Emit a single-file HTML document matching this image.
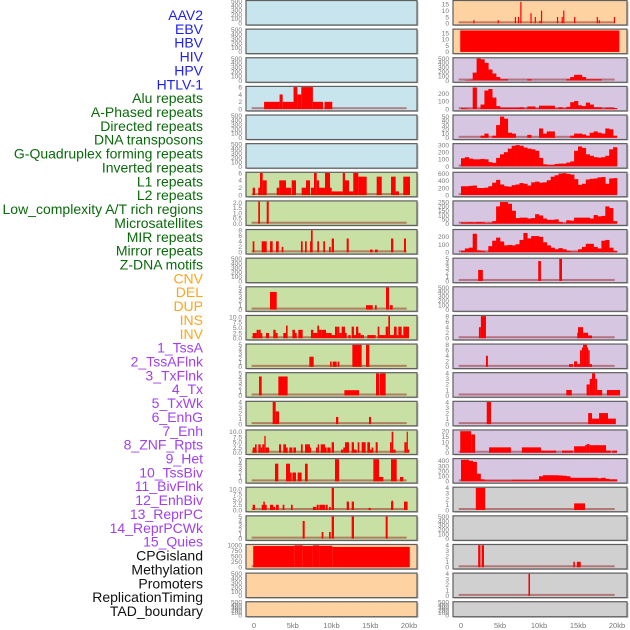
<!DOCTYPE html>
<html><head><meta charset="utf-8"><style>
html,body{margin:0;padding:0;background:#fff;}
svg{display:block;font-family:"Liberation Sans",sans-serif;}
</style></head><body>
<svg id="chart" width="630" height="630" viewBox="0 0 630 630" xmlns="http://www.w3.org/2000/svg"></svg>
<script>
// ---------- legend labels ----------
const labelNames = ["AAV2","EBV","HBV","HIV","HPV","HTLV-1","Alu repeats","A-Phased repeats","Directed repeats","DNA transposons","G-Quadruplex forming repeats","Inverted repeats","L1 repeats","L2 repeats","Low_complexity A/T rich regions","Microsatellites","MIR repeats","Mirror repeats","Z-DNA motifs","CNV","DEL","DUP","INS","INV","1_TssA","2_TssAFlnk","3_TxFlnk","4_Tx","5_TxWk","6_EnhG","7_Enh","8_ZNF_Rpts","9_Het","10_TssBiv","11_BivFlnk","12_EnhBiv","13_ReprPC","14_ReprPCWk","15_Quies","CPGisland","Methylation","Promoters","ReplicationTiming","TAD_boundary"];
const labelGroups = [6,13,5,15,5];
const groupColors = ["#1f1fee","#0a6a0a","#ffa51a","#a040f0","#111111"];

// ---------- tick arrays ----------
const t500 = [0,100,200,300,400,500];
const t6 = [0,2,4,6];
const t8 = [0,2,4,6,8];
const t2 = [0,0.5,1,1.5,2];
const t2Labels = ["0.0","0.5","1.0","1.5","2.0"];
const t5 = [0,1,2,3,4,5];
const t4 = [0,1,2,3,4];
const t10 = [0,2.5,5,7.5,10];
const t10Labels = ["0.0","2.5","5.0","7.5","10.0"];
const t1000 = [0,250,500,750,1000];
const t15 = [0,5,10,15];
const t20 = [0,5,10,15,20];
const t200 = [0,100,200];
const t300 = [0,100,200,300];
const t400 = [0,100,200,300,400];
const t50 = [0,10,20,30,40,50];
const t250 = [0,50,100,150,200,250];
const t600 = [0,200,400,600];
const xTicks = [0,5,10,15,20];
const xTickLabels = ["0","5kb","10kb","15kb","20kb"];

// ---------- left column series (segments: [startKb, endKb, value]) ----------
const aluSegs = [[1.3,3.3,2],[3.3,3.7,4],[3.7,5.1,2],[5.1,5.6,6],[5.6,6.1,4],[6.1,7.6,6],[7.6,8.9,2],[9.1,10.1,2]];
const l1Segs = [[-0.17,0.13,2],[0.55,0.77,2],[0.77,1.12,6],[1.12,1.64,4],[2.93,3.26,2],[3.26,4.13,4],[4.13,4.77,2],[4.86,5.42,4],[6.15,6.71,2],[6.71,7.23,4],[7.35,7.74,2],[7.74,8.09,6],[8.09,8.39,4],[8.39,9.16,2],[9.16,9.81,6],[9.81,10.03,2],[10.03,11.45,1],[11.45,11.74,6],[11.74,12.26,4],[12.26,12.81,1],[12.81,13.46,6],[13.46,14.54,5],[15.83,16.48,5],[17.68,18.28,5],[18.28,18.71,1],[19.26,20.13,5]];
const l2Segs = [[0.55,0.77,2.1],[1.64,1.9,2.1]];
const lowSegs = [[-0.17,0.05,4],[0.99,1.64,4],[2.06,2.41,4],[2.84,3.19,4],[3.57,3.78,2],[6.06,6.28,4],[6.58,6.8,4],[7.23,7.35,4],[7.35,7.57,8],[8.17,8.39,4],[8.94,9.16,4],[9.68,9.9,2],[10.03,10.32,5],[11.96,12.22,5],[14.97,15.31,1],[15.61,15.96,1],[17.68,17.97,5],[19.35,19.61,5]];
const mirSegs = [[2.06,2.93,4],[14.45,15.31,1],[15.61,15.83,1],[17.03,17.42,5],[17.55,17.9,1]];
const mirrorSegs = [[-0.17,0.34,2.5],[0.34,0.56,4],[0.56,0.86,4],[0.86,1.07,2.5],[1.55,1.94,2.5],[2.49,2.8,4],[2.8,3.05,2.5],[3.78,4.13,2.5],[4.13,4.34,6],[4.95,5.29,4],[5.29,5.51,2.5],[5.72,6.28,4],[7.35,7.65,4],[7.65,8.17,2.5],[8.17,8.39,6],[8.39,8.73,4],[8.73,9.29,4],[9.29,9.46,2.5],[9.46,10.02,2.5],[10.02,10.45,1.5],[10.45,10.75,5.5],[10.75,11.01,5.5],[11.01,11.31,2.5],[11.31,11.74,5.5],[11.74,11.96,2.5],[12.17,12.47,1.5],[12.6,12.9,5.5],[12.9,13.16,1.5],[13.16,13.46,5.5],[13.46,13.76,2.5],[13.76,14.19,1.5],[14.62,15.4,1.5],[15.4,15.7,1.5],[15.96,16.17,5.5],[16.17,16.99,1.5],[16.99,17.33,5.5],[17.33,17.55,10.5],[17.55,18.06,1.5],[18.06,18.41,5.5],[18.41,18.62,1.5],[18.62,19.05,5.5],[19.05,19.27,1.5],[19.27,20,5.5]];
const delSegs = [[7.14,7.7,2.3],[9.81,10.02,1.2],[10.15,10.67,1.2],[10.8,11.01,1.2],[12.69,13.89,5],[14.45,14.88,5]];
const dupSegs = [[0.65,0.99,4.3],[3.14,4.34,4.3],[11.66,13.55,1.2],[15.74,16.17,5],[16.26,16.99,5]];
const insSegs = [[2.41,2.8,4],[2.8,3.23,2.3],[10.58,10.88,1.3],[14.84,15.1,1.3]];
const invSegs = [[-0.17,0.13,2.5],[0.13,0.34,4],[0.56,0.86,4],[0.86,1.07,2.5],[1.07,1.33,4],[1.33,1.5,8],[1.5,1.94,2.5],[3.23,3.49,4],[3.78,4.13,4],[4.13,4.34,2.5],[4.56,4.95,2.5],[5.08,5.42,2.5],[6.06,6.28,4],[6.58,7.22,4],[7.22,7.35,2.5],[8.0,8.22,2.5],[8.22,8.39,4],[8.6,9.16,4],[9.16,9.38,2.5],[9.46,9.89,2.5],[10.02,10.32,5],[11.22,11.52,1.5],[11.52,11.74,2.5],[11.74,12.26,5],[12.6,12.9,5],[12.9,13.25,1.5],[13.38,13.59,5],[13.89,14.41,5],[14.62,14.97,5],[14.97,15.18,1.5],[15.18,15.4,2.5],[15.7,15.96,5],[17.55,17.76,5],[17.76,17.97,10],[17.97,18.28,1.5],[19.4,19.7,5],[19.7,19.82,10],[19.82,20.04,1.5]];
const tssaSegs = [[2.71,3.14,4],[4.13,4.65,4],[4.65,4.86,2],[4.95,5.42,2],[5.63,6.15,2],[6.58,6.93,4],[10.45,10.97,5],[15.4,16.13,5],[16.13,16.69,1],[17.68,18.41,5],[18.84,19.27,1]];
const tssaflnkSegs = [[-0.17,0.13,2.5],[0.99,1.64,2.5],[1.2,1.4,4],[2.06,2.49,2.5],[2.49,2.71,1.5],[2.84,3.19,2.5],[3.7,3.92,2.5],[4.77,4.99,2.5],[7.6,8.04,1.5],[8.09,8.35,2.5],[8.43,9.16,2.5],[9.25,9.51,2.5],[9.68,9.9,1.5],[10.02,10.32,10.5],[11.96,12.26,4],[12.6,12.9,4],[14.79,15.05,1],[17.68,17.97,4],[17.76,17.88,4.5],[19.35,19.82,4]];
const txflnkSegs = [[6.28,6.54,4],[8.73,8.95,1.5],[9.68,9.9,1.5],[10.02,10.32,5],[12.6,12.9,5],[16.99,17.25,5]];
const cpgSegs = [[-0.1,5.2,960],[5.2,6.3,990],[6.3,7.6,960],[7.6,8.4,990],[8.4,10.1,970],[10.1,20.1,920]];

// ---------- right column series ----------
const aav2Segs = [[1.58,1.73,2.5],[4.7,4.85,2.5],[6.9,7.05,5],[7.3,7.45,5],[7.6,7.75,17],[8.9,9.05,8],[9.45,9.6,5],[10.05,10.2,2],[10.25,10.4,10],[12.3,12.45,5],[12.9,13.05,5],[13.1,13.25,10],[14.5,14.65,5],[17.4,17.55,5],[17.65,17.8,2.5],[19.6,19.75,5]];
const hbvSegs = [[-0.1,20.3,17]];
const hivBins = [0,10,20,180,500,480,400,250,160,80,30,30,0,0,0,0,0,30,0,0,0,0,0,0,0,0,0,30,80,130,130,80,30,30,30,30,0,0,0,0];
const hpvBins = [15,10,5,280,5,60,240,260,150,40,20,20,20,20,20,25,10,35,35,10,45,45,45,45,10,25,10,30,90,105,50,40,85,60,25,25,10,20,20,15];
const htlvBins = [0,0,0,0,0,5,10,0,5,30,50,45,12,10,0,0,0,7,0,0,22,10,15,15,0,0,0,0,5,10,10,8,5,12,15,12,10,22,20,5];
const aphasedBins = [115,130,110,100,100,105,100,60,50,120,170,200,250,290,300,290,265,250,240,220,120,30,20,20,35,40,40,55,70,220,280,260,170,150,130,125,130,150,240,270];
const directedBins = [250,250,260,270,200,200,210,250,350,430,300,250,240,280,300,340,320,270,360,380,350,360,420,520,560,610,620,600,580,450,290,320,440,460,470,500,510,320,470,480];
const dnaBins = [15,15,18,15,20,18,8,10,30,200,250,250,230,150,65,70,70,60,65,110,95,60,45,45,50,20,5,40,35,70,70,70,70,60,100,85,90,200,180,30];
const gquadBins = [20,50,60,240,25,20,5,80,150,190,140,90,95,90,105,160,250,180,210,210,200,130,90,60,40,55,40,20,10,10,40,70,110,110,70,50,150,160,60,20];
const invertedSegs = [[2.2,2.8,2.5],[9.9,10.25,4.5],[12.6,12.95,5]];
const l1rSegs = [[2.3,2.55,4],[2.55,3.2,8],[14.9,15.0,2],[15.0,15.65,4],[15.65,16.3,2],[16.3,16.8,1]];
const l2rSegs = [[3.2,3.45,4],[13.85,14.35,1],[14.5,14.9,2],[14.9,15.25,1],[15.25,15.5,6],[15.5,15.65,7],[15.65,16.15,8],[16.15,16.3,7],[16.3,16.5,6],[16.5,16.8,1]];
const lowrSegs = [[13.5,14.2,1],[16.1,16.5,2],[16.5,16.8,3],[16.8,17.2,4],[17.2,17.45,3],[17.45,18.1,1],[18.7,20.4,1]];
const microSegs = [[3.3,3.85,4],[16.3,16.8,2],[16.8,17.7,1],[17.7,18.85,2],[18.85,19.85,1]];
const mirrSegs = [[-0.1,1.3,20],[1.3,1.8,17],[3.6,6.4,5],[7.8,10.25,5],[10.25,12.2,2],[12.95,14.35,2],[14.5,15.9,6],[15.9,16.1,7],[16.1,16.5,8],[16.5,18.6,7],[18.6,19.2,2],[19.4,20.0,2]];
const zdnaBins = [420,420,400,380,150,40,20,20,20,20,20,20,20,30,30,30,30,30,30,35,100,120,120,120,120,115,110,100,70,70,70,70,70,70,70,60,70,50,40,40];
const cnvSegs = [[1.9,3.1,4],[14.5,15.9,1.2]];
const tssaRSegs = [[2.2,2.5,4],[2.65,2.95,4],[14.4,14.6,1],[14.85,15.35,1]];
const tssaflnkRSegs = [[8.65,8.85,4]];

const BG = {blue:"#c8e4ec", peach:"#ffd2a2", lav:"#d6c6e2", green:"#c8e0a4", gray:"#d0d0d0"};

const leftPanels = [
 {bg:"blue",ticks:t500,ymax:500},{bg:"blue",ticks:t500,ymax:500},{bg:"blue",ticks:t500,ymax:500},
 {bg:"blue",ticks:t6,ymax:6,segs:aluSegs},
 {bg:"blue",ticks:t500,ymax:500},{bg:"blue",ticks:t500,ymax:500},
 {bg:"green",ticks:t6,ymax:6,segs:l1Segs},
 {bg:"green",ticks:t2,labels:t2Labels,ymax:2.1,segs:l2Segs},
 {bg:"green",ticks:t8,ymax:8,segs:lowSegs},
 {bg:"green",ticks:t500,ymax:500},
 {bg:"green",ticks:t5,ymax:5,segs:mirSegs},
 {bg:"green",ticks:t10,labels:t10Labels,ymax:10.5,segs:mirrorSegs},
 {bg:"green",ticks:t5,ymax:5,segs:delSegs},
 {bg:"green",ticks:t5,ymax:5,segs:dupSegs},
 {bg:"green",ticks:t4,ymax:4,segs:insSegs},
 {bg:"green",ticks:t10,labels:t10Labels,ymax:10.5,segs:invSegs},
 {bg:"green",ticks:t5,ymax:5,segs:tssaSegs},
 {bg:"green",ticks:t10,labels:t10Labels,ymax:10.5,segs:tssaflnkSegs},
 {bg:"green",ticks:t5,ymax:5,segs:txflnkSegs},
 {bg:"peach",ticks:t1000,ymax:1000,segs:cpgSegs},
 {bg:"peach",ticks:t500,ymax:500},
 {bg:"peach",ticks:t500,ymax:500,short:true}
];
const rightPanels = [
 {bg:"peach",ticks:t15,ymax:17.5,segs:aav2Segs},
 {bg:"peach",ticks:t15,ymax:17.5,segs:hbvSegs,noBase:true},
 {bg:"lav",ticks:t500,ymax:500,bins:hivBins},
 {bg:"lav",ticks:t200,ymax:285,bins:hpvBins},
 {bg:"lav",ticks:t50,ymax:52,bins:htlvBins},
 {bg:"lav",ticks:t300,ymax:310,bins:aphasedBins},
 {bg:"lav",ticks:t600,ymax:625,bins:directedBins},
 {bg:"lav",ticks:t250,ymax:255,bins:dnaBins},
 {bg:"lav",ticks:t200,ymax:285,bins:gquadBins},
 {bg:"lav",ticks:t5,ymax:5,segs:invertedSegs},
 {bg:"lav",ticks:t500,ymax:500},
 {bg:"lav",ticks:t8,ymax:8,segs:l1rSegs},
 {bg:"lav",ticks:t8,ymax:8,segs:l2rSegs},
 {bg:"lav",ticks:t4,ymax:4,segs:lowrSegs},
 {bg:"lav",ticks:t4,ymax:4,segs:microSegs},
 {bg:"lav",ticks:t20,ymax:20.5,segs:mirrSegs},
 {bg:"lav",ticks:t400,ymax:430,bins:zdnaBins},
 {bg:"gray",ticks:t4,ymax:4,segs:cnvSegs},
 {bg:"gray",ticks:t500,ymax:500},
 {bg:"gray",ticks:t4,ymax:4,segs:tssaRSegs},
 {bg:"gray",ticks:t4,ymax:4,segs:tssaflnkRSegs},
 {bg:"gray",ticks:t500,ymax:500,short:true}
];

const NS = "http://www.w3.org/2000/svg";
const svg = document.getElementById("chart");
function mk(tag, attrs, parent){
  const e = document.createElementNS(NS, tag);
  for (const k in attrs) e.setAttribute(k, attrs[k]);
  (parent||svg).appendChild(e);
  return e;
}
const COLS = [
  {box0:246, box1:417, x0:254, x1:409, tickX:242},
  {box0:453, box1:627, x0:461, x1:617, tickX:449}
];
function xScale(c, kb){ return c.x0 + kb*(c.x1-c.x0)/20; }
const ROW_PITCH = 28.63;

// legend labels
let li = 0;
labelGroups.forEach((n, g) => {
  for (let k = 0; k < n; k++, li++) {
    const t = mk("text", {x:203, y:(20 + li*13.86).toFixed(1), "text-anchor":"end", "font-size":"14", fill:groupColors[g]});
    
    
    t.textContent = labelNames[li];
  }
});

function drawPanel(p, ci, ri){
  const c = COLS[ci];
  const top = ri*ROW_PITCH;
  const h = p.short ? 15 : 24.5;
  const g = mk("g", {});
  
  
  const sh = mk("rect", {x:c.box0+1.5, y:top+1.5, width:c.box1-c.box0, height:h, fill:"#bdbdbd"}, g);
  
  
  const bg = mk("rect", {x:c.box0, y:top+0.5, width:c.box1-c.box0, height:h, fill:BG[p.bg]}, g);
  
  
  const y0 = top + h - 1.2, yt = top + 1.2;
  const ys = v => y0 - Math.min(v, p.ymax)/p.ymax*(y0-yt);
  p.ticks.forEach((tv, i) => {
    const t = mk("text", {x:c.tickX, y:(ys(tv)+2.3).toFixed(1), "text-anchor":"end", "font-size":"6.6", fill:"#7a7a7a"}, g);
    
    
    t.textContent = p.labels ? p.labels[i] : String(tv);
  });
  const hasData = p.segs || p.bins;
  if (hasData && !p.noBase) {
    const bl = mk("rect", {x:xScale(c,-0.3), y:y0-2, width:xScale(c,19.7)-xScale(c,-0.3), height:2, fill:"rgba(150,30,30,0.5)"}, g);
    
    
  }
  if (p.segs) p.segs.forEach(s => {
    const xa = xScale(c, s[0]), xb = xScale(c, s[1]);
    const r = mk("rect", {x:xa.toFixed(2), y:ys(s[2]).toFixed(2), width:Math.max(1.2, xb-xa).toFixed(2), height:(y0-ys(s[2])).toFixed(2), fill:"#ff0000"}, g);
    
    
  });
  if (p.bins) p.bins.forEach((v, i) => {
    if (v <= 0) return;
    const xa = xScale(c, i*0.5), xb = xScale(c, (i+1)*0.5);
    const r = mk("rect", {x:xa.toFixed(2), y:ys(v).toFixed(2), width:(xb-xa+0.3).toFixed(2), height:(y0-ys(v)).toFixed(2), fill:"#ff0000"}, g);
    
    
  });
  const bd = mk("rect", {x:c.box0, y:top+0.5, width:c.box1-c.box0, height:h, fill:"none", stroke:"#5e5e5e", "stroke-width":"1.2"}, g);
  
  
}
leftPanels.forEach((p, i) => drawPanel(p, 0, i));
rightPanels.forEach((p, i) => drawPanel(p, 1, i));

COLS.forEach(c => {
  xTicks.forEach((v, i) => {
    const t = mk("text", {x:xScale(c, v), y:628, "text-anchor":"middle", "font-size":"7.5", fill:"#777"});
    
    
    t.textContent = xTickLabels[i];
  });
});
</script>
</body></html>
